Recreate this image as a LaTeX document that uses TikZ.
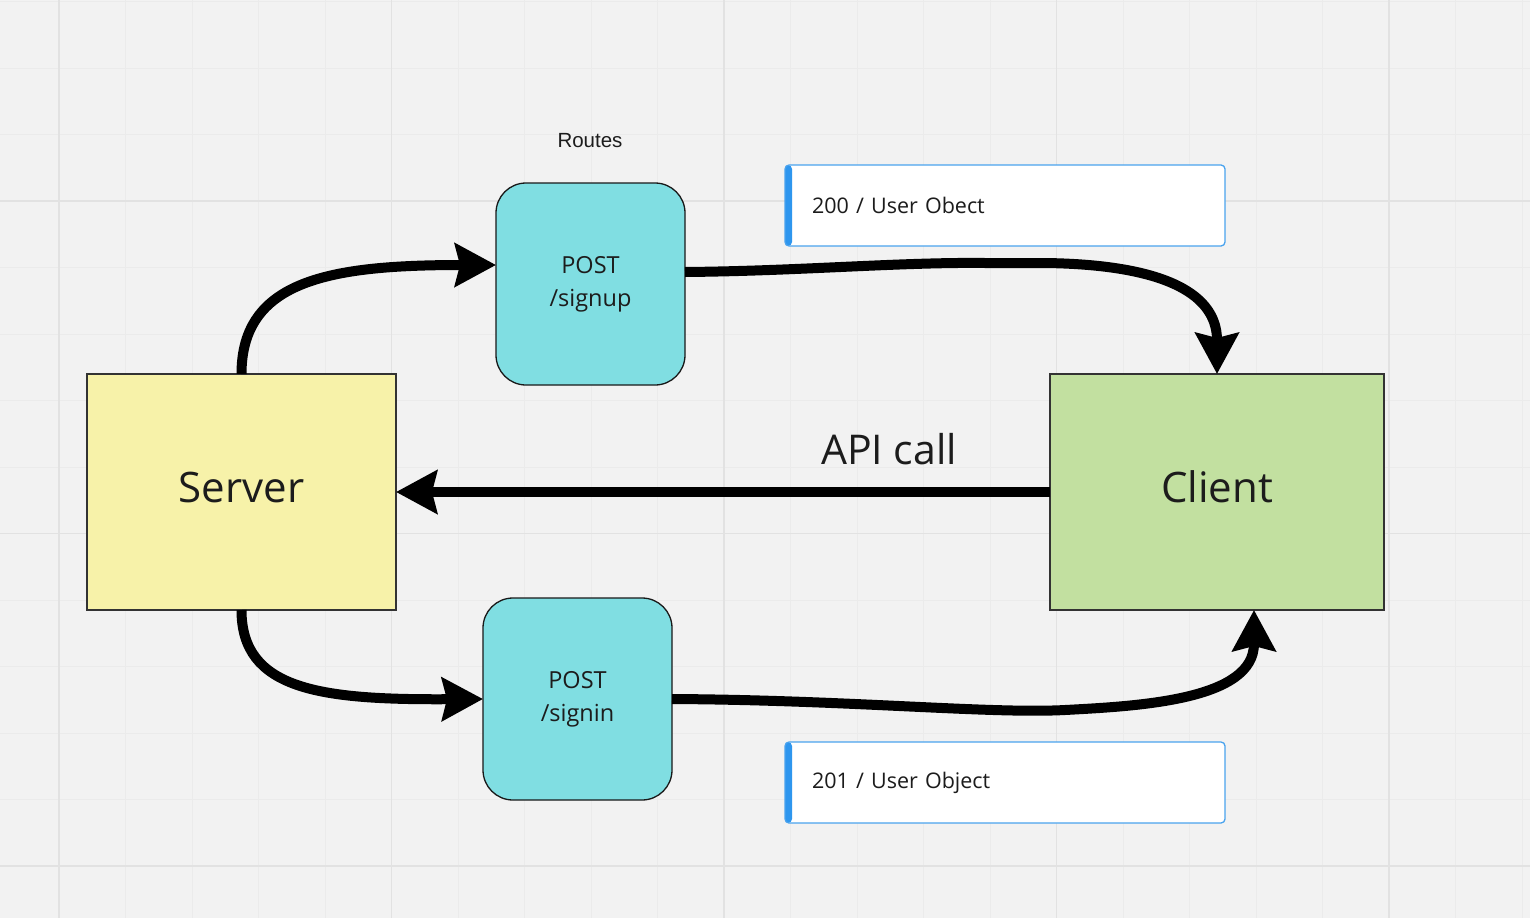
\documentclass[tikz,border=0pt]{standalone}
\usepackage{fontspec}
\setmainfont{Open Sans}
\newfontfamily\routesfont{Liberation Sans}
\usetikzlibrary{arrows.meta}
\definecolor{bgc}{HTML}{F2F2F2}
\definecolor{gridmaj}{HTML}{E2E2E2}
\definecolor{gridmin}{HTML}{EBEBEB}
\definecolor{servfill}{HTML}{F7F2A9}
\definecolor{clientfill}{HTML}{C2E0A0}
\definecolor{routefill}{HTML}{80DEE2}
\definecolor{noteblue}{HTML}{4AA3EE}
\definecolor{notebar}{HTML}{2E96EE}
\definecolor{txt}{HTML}{1C1C1C}
\tikzset{
  bigbox/.style={draw=black!80, line width=1.3pt, inner sep=0pt, outer sep=0pt, anchor=north west, text=txt, font=\fontsize{42}{50}\selectfont},
  routebox/.style={draw=black!90, line width=1.3pt, fill=routefill, rounded corners=30pt, inner sep=0pt, outer sep=0pt, anchor=north west, minimum width=189pt, minimum height=202pt, align=center, text=txt, font=\fontsize{23.5}{33}\selectfont},
  notebox/.style={draw=noteblue, line width=1.3pt, fill=white, rounded corners=4pt, anchor=north west, minimum width=440pt, minimum height=81pt, inner xsep=27pt, inner ysep=0pt, outer sep=0pt, text width=386pt, align=left, text=txt, font=\fontsize{21.5}{26}\selectfont,
    path picture={\fill[notebar] (path picture bounding box.north west) rectangle ([xshift=7pt]path picture bounding box.south west);}},
  conn/.style={line width=10pt, -{Stealth[length=41pt,width=43pt,inset=5pt]}},
}
\begin{document}
\begin{tikzpicture}[x=1pt,y=-1pt]
\useasboundingbox (0,0) rectangle (1530,918);
\fill[bgc] (0,0) rectangle (1530,918);
% minor grid
\foreach \i in {0,...,23} {
  \draw[gridmin, line width=1pt] ({-7.5+66.5*\i},0) -- ({-7.5+66.5*\i},918);
}
\foreach \j in {0,...,13} {
  \draw[gridmin, line width=1pt] (0,{1.5+66.5*\j}) -- (1530,{1.5+66.5*\j});
}
% major grid
\foreach \i in {0,...,4} {
  \draw[gridmaj, line width=1.6pt] ({59+332.5*\i},0) -- ({59+332.5*\i},918);
}
\foreach \j in {0,...,2} {
  \draw[gridmaj, line width=1.6pt] (0,{201+332.5*\j}) -- (1530,{201+332.5*\j});
}

\node[bigbox, fill=servfill, minimum width=309pt, minimum height=236pt] (server) at (87,374) {\raisebox{5pt}[\height][\depth]{Server}};
\node[bigbox, fill=clientfill, minimum width=334pt, minimum height=236pt] (client) at (1050,374) {\raisebox{5pt}[\height][\depth]{Client}};
\node[routebox] (signup) at (496,183) {POST\\/signup};
\node[routebox] (signin) at (483,598) {POST\\/signin};
\node[text=txt, font=\routesfont\fontsize{20.5}{24}\selectfont] (routes) at (590,141) {Routes};
\node[notebox] (note1) at (785,165) {200 / User Obect};
\node[notebox] (note2) at (785,742) {201 / User Object};
\node[text=txt, font=\fontsize{41}{48}\selectfont] (api) at (889,449) {API call};

\draw[conn] (server.north) .. controls (241.5,280) and (330,265) .. ([yshift=19pt]signup.west);
\draw[conn] (server.south) .. controls (241.5,690) and (320,700) .. (signin.west);
\draw[conn] (client.west) -- (server.east);
\draw[conn] ([yshift=12pt]signup.east) .. controls (800,271) and (900,262) .. (985,263) -- (1045,263) .. controls (1195,265) and (1217,310) .. (client.north);
\draw[conn] (signin.east) .. controls (850,700) and (990,714) .. (1065,710) .. controls (1140,706) and (1254,700) .. ([xshift=37pt]client.south);
\end{tikzpicture}
\end{document}
